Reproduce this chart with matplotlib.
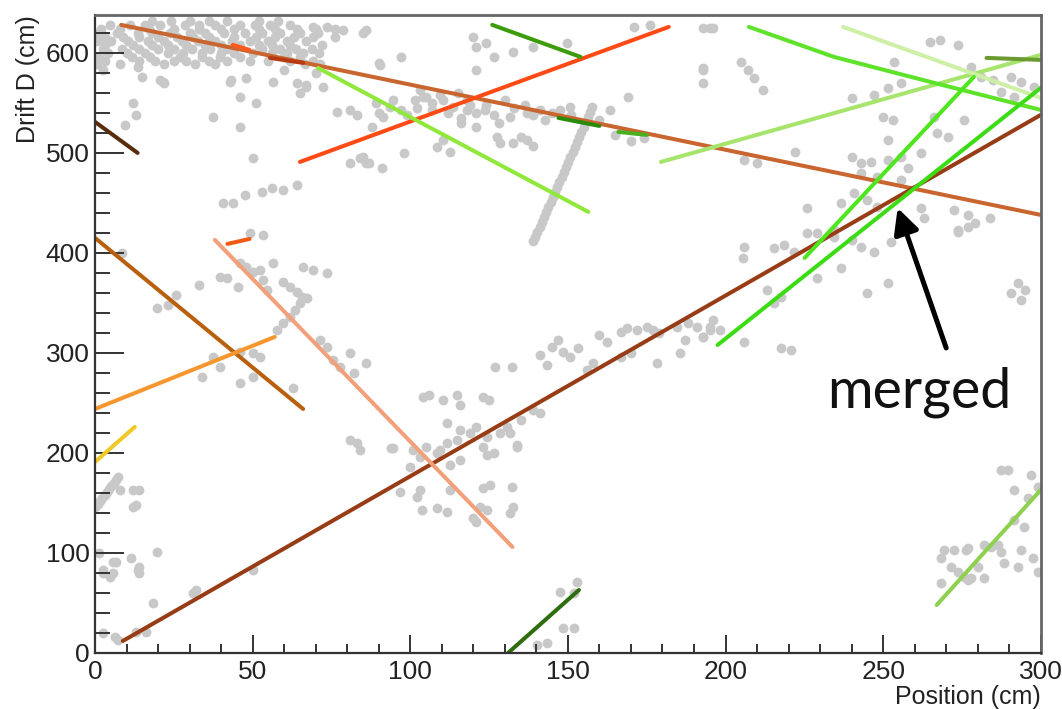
import matplotlib
matplotlib.use("Agg")
import matplotlib.pyplot as plt
from matplotlib.ticker import MultipleLocator

# ---------------------------------------------------------------- hits (cm)
# dense band of hits along the top of the chamber
band_pos = [4.6, 11, 15.7, 20.5, 28.4, 33, 38, 46, 50.7, 55.5, 62,
            1.4, 7, 13.5, 18, 23.7, 30, 34.8, 41, 47.5, 53, 58.6, 65, 70.8,
            0.5, 5.2, 10.3, 16.7, 22, 27.5, 32.6, 38, 43.4, 49, 54.8, 61, 67,
            2.4, 8.4, 14, 20, 25, 30.7, 36.4, 42, 53, 58.6, 63.7, 68.8,
            1.4, 11.6, 17.3, 26.8, 33.8, 39.6, 46, 60, 65,
            0.5, 7.8, 22, 31.6, 38, 66.5, 71.4,
            18, 24, 30, 36, 42, 52, 58,
            2, 8, 17, 25, 33, 40, 44, 52, 57, 64, 70, 76,
            3, 9, 14, 20, 26, 31, 36, 44, 51, 57, 63, 69, 76,
            3, 12, 18, 23, 29, 35, 40, 46, 52, 56, 62, 72,
            4, 10, 16, 23, 28, 34, 40, 44, 50, 56, 61, 66, 71,
            3, 14, 19, 25, 29, 36, 42, 49, 55, 62, 69,
            69, 73.5, 78.7, 85, 86, 90, 97, 90.4, 121, 124, 120, 126.5,
            132.7, 139, 149.8, 171, 176, 193, 196]
band_drift = [628, 628, 628, 628, 628, 628, 628, 628, 628, 628, 628,
              620, 620, 620, 620, 620, 620, 620, 620, 620, 620, 620, 620, 620,
              612, 612, 612, 612, 612, 612, 612, 612, 612, 612, 612, 612, 612,
              604, 604, 604, 604, 604, 604, 604, 604, 604, 604, 604, 604,
              596, 596, 596, 596, 596, 596, 596, 596, 596,
              589, 589, 589, 589, 589, 589, 589,
              632, 632, 632, 632, 632, 632, 632,
              624, 624, 624, 624, 624, 624, 624, 624, 624, 624, 624, 624,
              616, 616, 616, 616, 616, 616, 616, 616, 616, 616, 616, 616, 616,
              608, 608, 608, 608, 608, 608, 608, 608, 608, 608, 608, 608,
              600, 600, 600, 600, 600, 600, 600, 600, 600, 600, 600, 600, 600,
              592, 592, 592, 592, 592, 592, 592, 592, 592, 592, 592,
              626, 626, 623, 620, 623, 590, 596, 588, 606, 610, 616, 596,
              601, 606, 610, 626, 628, 625, 625]

# scattered hits in the upper-left and upper-centre region
upper_pos = [13.5, 15, 21.5, 2.5, 12, 13, 9.4, 37.5, 46, 50, 43, 48, 46, 51,
             56.5, 65, 67, 70, 60, 40.5, 43.7, 47.5, 53, 56, 59.6, 64, 81, 84,
             86, 91, 76.7, 81, 83, 89, 91.5, 93.6, 108.5, 110.5, 104, 107, 64,
             67, 72.4, 42.7, 20.5, 22, 94.6, 97, 90, 88, 85, 87, 105, 110.5,
             113.7, 118, 121, 126.5, 131.7, 137, 141, 150.8, 116, 121, 127.5,
             112.7, 132.7, 135, 137, 121, 169, 193, 193, 101.5, 109.5, 119,
             123.8, 130, 136.5, 142.8, 147.6, 160, 163.5, 165, 170, 174,
             128.6, 139, 98, 103, 115,
             99, 102, 112, 116, 124, 128, 133, 139, 145, 151, 107, 118]
upper_drift = [586, 576, 571, 583, 550, 538, 528, 536, 526, 495, 573, 575, 556,
               550, 571, 560, 568, 580, 583, 450, 450, 458, 461, 465, 463, 468,
               490, 495, 490, 485, 541, 543, 538, 550, 536, 546, 506, 513, 556,
               550, 570, 566, 566, 571, 573, 570, 553, 543, 540, 526, 496, 490,
               556, 553, 546, 543, 540, 538, 536, 540, 543, 546, 530, 526, 516,
               501, 510, 516, 513, 583, 556, 583, 570, 553, 558, 548, 543, 553,
               548, 533, 543, 533, 543, 518, 512, 515, 510, 507, 500, 563, 560,
               538, 545, 540, 535, 548, 530, 545, 538, 540, 538, 543, 553]

# steep streak of hits in the middle of the chamber
streak_pos = [157.5, 157, 156.3, 155.6, 155, 154.3, 153.6, 152.9, 152.2,
              151.5, 150.8, 150.1, 149.4, 148.7, 148, 147.3, 146.6, 145.9,
              145.2, 144.5, 143.8, 143.1, 142.4, 141.7, 141, 140.3, 139.6,
              139]
streak_drift = [546, 541, 536, 531, 526, 521, 516, 511, 506, 501, 496, 491,
                486, 481, 476, 471, 466, 461, 456, 451, 446, 441, 436, 431,
                426, 421, 416, 412]

# hits around the crossing tracks on the left
left_pos = [8.4, 19.5, 23, 25.8, 33, 39.6, 41.7, 45.4, 46, 48, 50, 52.3, 53.3,
            54.5, 56.5, 59.6, 61.8, 64, 65.6, 67.2, 65, 63.4, 61.8, 59.6, 57.6,
            66, 69, 73.5, 49, 53.3, 37.4, 34, 39.6, 46, 50, 52.3, 46, 50, 62.8,
            71.3, 73.5, 75.6, 77.7, 81, 82, 81, 83, 84, 86]
left_drift = [400, 345, 348, 358, 368, 376, 375, 366, 390, 386, 381, 383, 373,
              363, 390, 371, 366, 361, 356, 355, 350, 343, 336, 330, 323, 386,
              383, 380, 420, 418, 296, 276, 286, 301, 300, 296, 270, 276, 265,
              313, 306, 293, 286, 300, 280, 213, 210, 203, 290]

# hits along the long rising track
middle_pos = [104, 106, 110.5, 114.8, 115.8, 123, 125, 127, 132.3, 141, 143.4,
              145, 146.7, 148.6, 150.8, 153.3, 160, 162.5, 166.7, 168.8, 172,
              175, 177, 179, 184.7, 188, 191, 195, 156, 158, 166.7, 170, 178.4,
              185.7, 187.3, 193, 196, 141, 139, 135, 130.7, 128.5, 131.7, 124.4,
              121, 119, 115.8, 111.6, 114.8, 123, 134, 126.5, 94, 105, 103,
              108.5, 111.6, 94.6, 101, 109.5, 112.6, 115.8, 100, 124.4, 134,
              96.8, 102, 103, 103.7, 108.5, 111.6, 112.6, 123, 125.4, 132.3,
              122, 124.4, 131.7, 132.7, 121, 120]
middle_drift = [256, 258, 253, 258, 248, 256, 253, 286, 286, 298, 288, 306,
                313, 301, 296, 305, 318, 311, 321, 325, 323, 326, 323, 320,
                326, 330, 326, 323, 283, 290, 296, 300, 290, 300, 313, 316,
                333, 240, 243, 233, 226, 220, 220, 216, 226, 220, 223, 230,
                213, 206, 206, 200, 205, 206, 196, 200, 210, 205, 203, 203,
                188, 193, 186, 198, 208, 161, 156, 163, 143, 145, 141, 163,
                165, 168, 166, 146, 143, 140, 146, 131, 135]

# hits in the upper-right region
right_pos = [195, 193, 205, 207, 209, 212, 222, 206, 210, 240, 247, 251.5,
             255.6, 253.5, 265, 268, 273.7, 278, 281, 285, 290.6, 293.8, 298,
             287.4, 291.5, 250, 253, 266, 275.7, 251.5, 267, 270.6, 240, 243,
             246, 251.5, 255.6, 257.8, 262, 243, 248, 255.6, 226, 236.6, 240.8,
             245, 248, 262, 263, 272.6, 277, 279, 284, 273.7, 234.5, 226, 206,
             205.5, 215.5, 218.6, 221.7, 229, 234.5, 240, 243, 247, 252.6,
             236.6, 229, 245, 251.5, 217.5, 213, 215.5, 195, 198.4, 193, 206,
             217.5, 220.7, 273.7, 277, 292.8, 290.6, 293.8, 295]
right_drift = [625, 585, 591, 583, 575, 563, 501, 493, 490, 555, 558, 565, 570,
               591, 611, 613, 608, 586, 576, 573, 576, 571, 566, 561, 556, 536,
               533, 536, 533, 513, 520, 516, 496, 490, 491, 493, 496, 485, 500,
               480, 476, 473, 445, 450, 460, 453, 446, 445, 435, 443, 438, 430,
               435, 423, 423, 420, 406, 395, 405, 408, 401, 420, 416, 413, 406,
               401, 411, 385, 375, 360, 370, 356, 363, 350, 326, 323, 316, 311,
               305, 303, 421, 426, 370, 360, 353, 363]

# hits near the bottom edge and the left wall
low_pos = [0, 1.5, 3, 4.5, 6, 7.3, 7.8, 12, 14, 13, 12, 19.5, 1.4, 5.6, 6.8,
           11.5, 14, 14, 2.5, 4.6, 18.3, 31, 32, 50, 6.2, 7.3, 13, 16.3, 2.5,
           5.6, 13.5, 2.5, 147.6, 151.8, 153, 148.6, 151.8, 140.3, 143.4,
           0.8, 2.2, 3.7, 5.2, 6.6]
low_drift = [146, 152, 158, 164, 170, 176, 163, 163, 163, 148, 146, 101, 100,
             91, 91, 95, 86, 80, 80, 76, 50, 60, 63, 83, 16, 13, 21, 21, 83, 80,
             83, 20, 61, 60, 71, 25, 25, 8, 10,
             149, 155, 161, 167, 173]

# hits around the short track in the lower right
corner_pos = [287.4, 289.6, 297, 291.6, 299, 296, 294.8, 291.6, 293.8, 297.6,
              299, 292.8, 288.4, 286.5, 287.4, 284.2, 282, 276.9, 276.3, 272.5,
              269.4, 268.3, 271.5, 273.7, 275.7, 277.9, 280, 282, 268.3, 276.9]
corner_drift = [183, 183, 178, 163, 166, 155, 126, 133, 103, 95, 81, 86, 90,
                108, 101, 106, 108, 105, 103, 103, 103, 95, 86, 81, 76, 75, 86,
                75, 70, 73]

# --------------------------------------------------------- fitted tracks (cm)
track_pos = [
    [8.3, 300], [8.8, 300], [65, 182], [70.7, 156.5], [126, 154],
    [179.5, 300], [207.4, 234.4, 266.2, 300], [237.3, 300], [225.1, 278.8],
    [197.5, 300], [0, 13.5], [0, 66], [0, 57], [38, 132.4], [42, 49],
    [0, 12.6], [131, 153.5], [267, 300], [282.8, 300],
    [147, 160], [166, 175], [43.7, 49], [55.5, 66],
]
track_drift = [
    [628, 438], [12, 538], [491, 626], [585, 441], [628, 596],
    [491, 598], [626, 596, 570, 543], [626, 555], [395, 576],
    [308, 565], [531, 500], [415, 244], [244, 316], [413, 106], [409, 414],
    [191, 226], [0, 63], [48, 163], [595, 593],
    [535, 527], [521, 518], [608, 603], [595, 590],
]
track_colors = [
    "#c9652f", "#983c16", "#ff4a14", "#90e83c", "#3c9c0c",
    "#a6e46c", "#5ee32a", "#cdf0a6", "#4ee61c",
    "#3cdc14", "#5a2c0e", "#b8600e", "#f5962e", "#f2a07a", "#f05a14",
    "#f0c828", "#2e6e10", "#8ed050", "#6a9a30",
    "#2a8a0a", "#4ab020", "#ff5a1e", "#b83a10",
]

# --------------------------------------------------------------- figure
fig = plt.figure(figsize=(10.62, 7.09), dpi=100)
ax = fig.add_axes([0.0895, 0.079, 0.8905, 0.9])

hit_groups = [(band_pos, band_drift), (upper_pos, upper_drift),
              (streak_pos, streak_drift), (left_pos, left_drift),
              (middle_pos, middle_drift), (right_pos, right_drift),
              (low_pos, low_drift), (corner_pos, corner_drift)]
for hx, hy in hit_groups:
    ax.scatter(hx, hy, s=50, color="#c8c8c8", linewidths=0, zorder=1)

for tx, ty, c in zip(track_pos, track_drift, track_colors):
    ax.plot(tx, ty, color=c, lw=2.9, solid_capstyle="round", zorder=2)

ax.set_xlim(0, 300)
ax.set_ylim(0, 638)

ax.xaxis.set_major_locator(MultipleLocator(50))
ax.xaxis.set_minor_locator(MultipleLocator(10))
ax.yaxis.set_major_locator(MultipleLocator(100))
ax.yaxis.set_minor_locator(MultipleLocator(20))

ax.tick_params(axis="x", which="major", direction="in", length=13, width=1.4,
               color="#333333", pad=5, labelsize=19, labelcolor="#222222")
ax.tick_params(axis="x", which="minor", direction="in", length=6.5, width=1.4,
               color="#333333")
ax.tick_params(axis="y", which="major", direction="in", length=21, width=1.4,
               color="#333333", pad=4, labelsize=19, labelcolor="#222222")
ax.tick_params(axis="y", which="minor", direction="in", length=10.5, width=1.4,
               color="#333333")
for lab in ax.get_xticklabels() + ax.get_yticklabels():
    lab.set_family("Liberation Sans")

for side in ["left", "bottom"]:
    ax.spines[side].set_color("#333333")
    ax.spines[side].set_linewidth(1.6)
for side in ["top", "right"]:
    ax.spines[side].set_color("#666666")
    ax.spines[side].set_linewidth(2.0)

ax.set_xlabel("Position (cm)", family="Liberation Sans", fontsize=18,
              color="#222222", loc="right", labelpad=1)
ax.set_ylabel("Drift D (cm)", family="Liberation Sans", fontsize=18,
              color="#222222", loc="top", labelpad=4)

# annotation pointing at the merged pair of tracks
ax.annotate("", xy=(254.6, 445), xytext=(270, 305),
            arrowprops=dict(arrowstyle="-|>", lw=3.6, color="black",
                            mutation_scale=38, shrinkA=0, shrinkB=0),
            zorder=5)
ax.text(261.4, 245, "merged", family="Lato", fontsize=40,
        color="#111111", ha="center", va="baseline", zorder=5)

fig.savefig("out.png", dpi=100)
